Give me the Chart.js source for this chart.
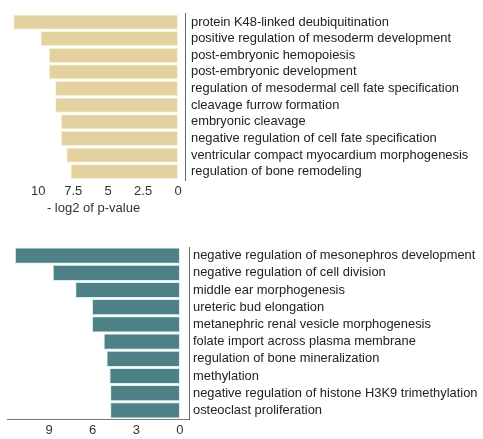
<!DOCTYPE html>
<html><head><meta charset="utf-8">
<script src="https://cdn.jsdelivr.net/npm/chart.js@4"></script>
<style>
body{margin:0;background:#fff;width:483px;height:439px;overflow:hidden;position:relative}
canvas{position:absolute;left:0}
#c1{top:0}
#c2{top:228px}
</style></head><body>
<canvas id="c1" width="483" height="216" style="width:483px;height:216px"></canvas>
<canvas id="c2" width="483" height="211" style="width:483px;height:211px"></canvas>
<script>
const topCategories = [
  'protein K48-linked deubiquitination',
  'positive regulation of mesoderm development',
  'post-embryonic hemopoiesis',
  'post-embryonic development',
  'regulation of mesodermal cell fate specification',
  'cleavage furrow formation',
  'embryonic cleavage',
  'negative regulation of cell fate specification',
  'ventricular compact myocardium morphogenesis',
  'regulation of bone remodeling'
];
const topValues = [11.8, 9.85, 9.25, 9.25, 8.8, 8.8, 8.4, 8.4, 8.0, 7.7];
const topTickValues = [10, 7.5, 5, 2.5, 0];
const topAxisTitle = '- log2 of p-value';

const bottomCategories = [
  'negative regulation of mesonephros development',
  'negative regulation of cell division',
  'middle ear morphogenesis',
  'ureteric bud elongation',
  'metanephric renal vesicle morphogenesis',
  'folate import across plasma membrane',
  'regulation of bone mineralization',
  'methylation',
  'negative regulation of histone H3K9 trimethylation',
  'osteoclast proliferation'
];
const bottomValues = [11.35, 8.75, 7.2, 6.05, 6.05, 5.25, 5.05, 4.85, 4.8, 4.8];
const bottomTickValues = [9, 6, 3, 0];

const F = "'Liberation Sans', Arial, sans-serif";
const LS = 12.9;
const TS = 13;

function makeChart(id, cats, vals, ticks, cfg) {
  return new Chart(document.getElementById(id), {
    type: 'bar',
    data: {
      labels: cats,
      datasets: [{
        data: vals,
        backgroundColor: cfg.color,
        borderColor: cfg.edge,
        borderWidth: 1,
        borderSkipped: false,
        barPercentage: cfg.barPct,
        categoryPercentage: 1
      }]
    },
    options: {
      indexAxis: 'y',
      responsive: false,
      animation: false,
      devicePixelRatio: 1,
      layout: { padding: cfg.padding },
      plugins: { legend: { display: false }, tooltip: { enabled: false } },
      scales: {
        x: {
          reverse: true,
          min: cfg.min,
          max: cfg.max,
          grid: { display: false, drawTicks: false },
          border: { display: cfg.xBorder, color: '#777', width: 1 },
          afterBuildTicks: s => { s.ticks = ticks.map(v => ({ value: v })); },
          afterFit: s => { s.height = cfg.xHeight; },
          ticks: {
            color: '#333', font: { size: TS, family: F }, padding: 4,
            maxRotation: 0, autoSkip: false,
            callback: v => String(v)
          },
          title: cfg.title ? {
            display: true, text: cfg.title, color: '#333',
            font: { size: TS, family: F }, padding: 0
          } : { display: false }
        },
        y: {
          position: 'right',
          grid: { display: false, drawTicks: false },
          border: { display: true, color: '#666', width: 1 },
          afterFit: s => { s.width = cfg.yWidth; },
          ticks: { color: '#222', font: { size: LS, family: F }, padding: cfg.yPad, autoSkip: false }
        }
      }
    }
  });
}

makeChart('c1', topCategories, topValues, topTickValues, {
  color: '#e4d1a0', edge: '#fbf3de', barPct: 0.92,
  padding: { top: 10, left: 2, right: 0, bottom: 0 },
  min: -0.5, max: 12.6, xBorder: false, xHeight: 36, yWidth: 298, yPad: 6,
  title: topAxisTitle
});

makeChart('c2', bottomCategories, bottomValues, bottomTickValues, {
  color: '#4d8185', edge: '#d8f0f0', barPct: 0.94,
  padding: { top: 19, left: 7, right: 0, bottom: 0 },
  min: -0.62, max: 11.89, xBorder: true, xHeight: 20, yWidth: 294, yPad: 4,
  title: null
});
</script>
</body></html>
